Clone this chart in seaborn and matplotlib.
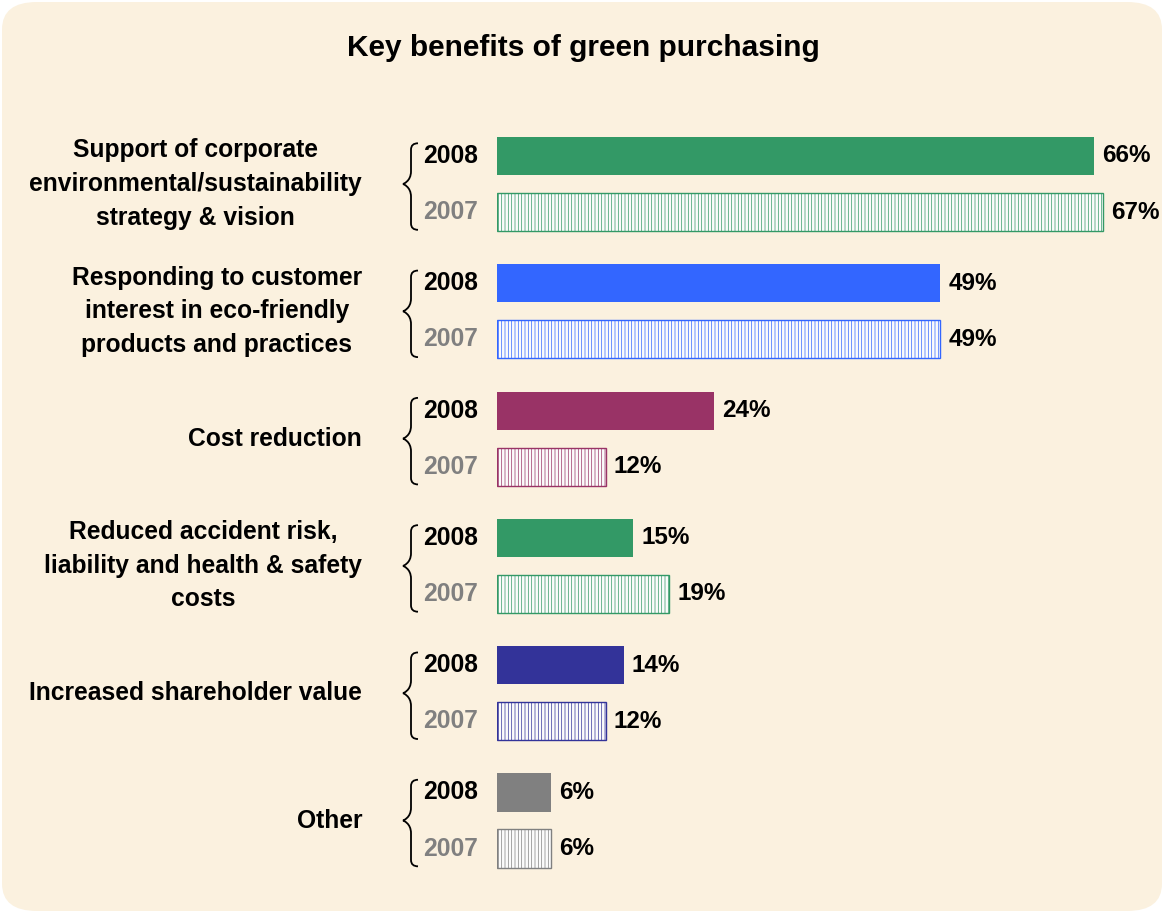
import matplotlib
matplotlib.use("Agg")
import matplotlib.pyplot as plt
import matplotlib.transforms as mtransforms
from matplotlib.patches import FancyBboxPatch, PathPatch
from matplotlib.path import Path
import pandas as pd
import seaborn as sns

# Dados do grafico
categorias = [
    "Support of corporate\nenvironmental/sustainability\nstrategy & vision",
    "Responding to customer\ninterest in eco-friendly\nproducts and practices",
    "Cost reduction",
    "Reduced accident risk,\nliability and health & safety\ncosts",
    "Increased shareholder value",
    "Other",
]
anos = ["2008", "2007"]
valores_2008 = [66, 49, 24, 15, 14, 6]
valores_2007 = [67, 49, 12, 19, 12, 6]
cores = ["#339966", "#3366FF", "#993366", "#339966", "#333399", "#808080"]

df = pd.DataFrame({
    "categoria": categorias * 2,
    "ano": [anos[0]] * len(categorias) + [anos[1]] * len(categorias),
    "valor": valores_2008 + valores_2007,
})

sns.set_theme(style="white")
plt.rcParams["font.family"] = ["Liberation Sans", "DejaVu Sans"]
plt.rcParams["text.color"] = "black"
plt.rcParams["hatch.linewidth"] = 0.5

fig = plt.figure(figsize=(11.64, 9.13), dpi=100)
fig.patch.set_facecolor("white")
W, H = 1164, 913

# fundo creme arredondado
fundo = FancyBboxPatch((2 / W, 2 / H), 1 - 4 / W, 1 - 4 / H,
                       boxstyle="round,pad=0,rounding_size=0.03",
                       transform=fig.transFigure, facecolor="#FBF1DF",
                       edgecolor="none", zorder=-10)
fig.patches.append(fundo)

# eixo posicionado para casar com a referencia
px_unit = 9.045
left = 497 / W
xmax = 72
width = xmax * px_unit / W
top_px = 184 - 0.6 * 127.3
bot_px = 820.5 + 0.6 * 127.3
ax = fig.add_axes([left, 1 - bot_px / H, width, (bot_px - top_px) / H])
ax.patch.set_alpha(0)

sns.barplot(data=df, x="valor", y="categoria", hue="ano", hue_order=anos,
            order=categorias, orient="h", width=0.88, gap=0.32,
            palette=["#339966", "#ffffff"], legend=False, ax=ax)

ax.set_xlim(0, xmax)
ax.set_ylim(5.6, -0.6)
ax.set_xlabel("")
ax.set_ylabel("")
ax.set_xticks([])
ax.set_yticks([])
for s in ax.spines.values():
    s.set_visible(False)

# cores por categoria; 2007 com hachura
for barra, cor in zip(ax.containers[0], cores):
    barra.set_facecolor(cor)
    barra.set_edgecolor("none")
for barra, cor in zip(ax.containers[1], cores):
    barra.set_facecolor("#fbfbfb")
    barra.set_edgecolor(cor)
    barra.set_hatch("|||||")
    barra.set_linewidth(1.0)

# rotulos de valores
for cont, vals in zip(ax.containers, [valores_2008, valores_2007]):
    ax.bar_label(cont, labels=[f"{v}%" for v in vals], padding=6,
                 fontsize=17.5, fontweight="bold", color="black")

# rotulos de categorias, anos e chaves
trans = mtransforms.blended_transform_factory(fig.transFigure, ax.transData)
off = 0.22
for i, cat in enumerate(categorias):
    ax.text(362 / W, i, cat, transform=trans, ha="right", va="center",
            multialignment="center", fontsize=17.7, fontweight="bold",
            linespacing=1.5)
    ax.text(478 / W, i - off, "2008", transform=trans, ha="right",
            va="center", fontsize=17.7, fontweight="bold", color="black")
    ax.text(478 / W, i + off, "2007", transform=trans, ha="right",
            va="center", fontsize=17.7, fontweight="bold", color="#808080")
    # chave "{"
    xa, xm, xt = 418 / W, 411 / W, 403 / W
    y0, y1 = i - 0.32, i + 0.36
    verts = [(xa, y0), (xm, y0), (xm, y0 + 0.05), (xm, i - 0.1),
             (xm, i - 0.02), (xt, i), (xt, i),
             (xt, i), (xm, i + 0.02), (xm, i + 0.1),
             (xm, y1 - 0.05), (xm, y1), (xa, y1)]
    codes = [Path.MOVETO, Path.CURVE3, Path.CURVE3, Path.LINETO,
             Path.CURVE4, Path.CURVE4, Path.CURVE4,
             Path.CURVE4, Path.CURVE4, Path.CURVE4,
             Path.LINETO, Path.CURVE3, Path.CURVE3]
    chave = PathPatch(Path(verts, codes), transform=trans, facecolor="none",
                      edgecolor="black", linewidth=1.3, clip_on=False)
    ax.add_patch(chave)

fig.text(583 / W, 1 - 48 / H, "Key benefits of green purchasing",
         ha="center", va="center", fontsize=21.5, fontweight="bold")

fig.savefig("out.png", dpi=100)
plt.close(fig)
